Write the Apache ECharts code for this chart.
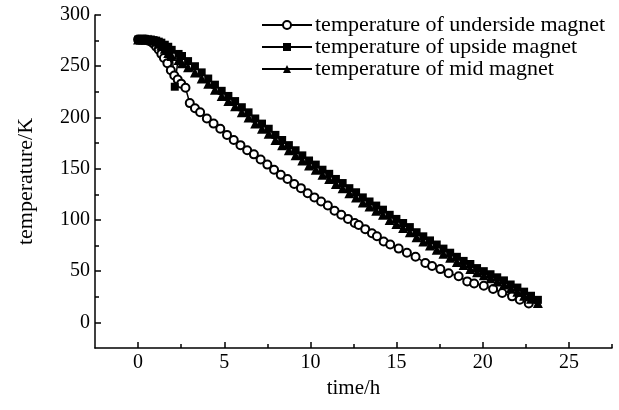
<!DOCTYPE html>
<html>
<head>
<meta charset="utf-8">
<script src="https://cdn.jsdelivr.net/npm/echarts@6/dist/echarts.min.js"></script>
<style>html,body{margin:0;padding:0;background:#fff}#c{width:619px;height:410px}</style>
</head>
<body>
<div id="c"></div>
<script>
// ---- data ----
const seriesNames = ['temperature of underside magnet', 'temperature of upside magnet', 'temperature of mid magnet'];

const timeUnder = [0, 0.15, 0.3, 0.45, 0.6, 0.75, 0.9, 1.05, 1.2, 1.35, 1.5, 1.7, 1.9, 2.1, 2.3, 2.5, 2.75, 3.0, 3.3, 3.6,
  3.99, 4.38, 4.77, 5.16, 5.55, 5.94, 6.33, 6.72, 7.11, 7.5, 7.89, 8.28, 8.67, 9.06, 9.45, 9.84, 10.23, 10.62, 11.01, 11.4,
  11.79, 12.18, 12.57, 12.8, 13.18, 13.57, 13.86, 14.25, 14.63, 15.12, 15.6, 16.1, 16.67, 17.06, 17.54, 18.02, 18.6, 19.1,
  19.5, 20.06, 20.6, 21.13, 21.7, 22.15, 22.67];
const tempUnder = [276, 276, 276, 276, 275, 274, 272, 269, 266, 262, 258, 253, 246, 241, 237, 233, 229, 214, 209, 205,
  199, 194, 189, 183, 178, 173, 168, 164, 159, 154, 149, 144, 140, 135, 131, 126, 122, 118, 114, 109,
  105, 101, 97, 95, 91, 87, 84, 79, 76, 72, 68, 64, 58, 55, 52, 48, 45, 40,
  38, 35.8, 32.6, 28.7, 25.4, 22.2, 18.5];

const timeUp = [0, 0.15, 0.3, 0.45, 0.6, 0.75, 0.9, 1.05, 1.2, 1.35, 1.55, 1.75, 1.95, 2.13, 2.35, 2.55, 2.9, 3.3, 3.69, 4.07,
  4.46, 4.85, 5.24, 5.63, 6.02, 6.41, 6.8, 7.19, 7.58, 7.97, 8.36, 8.75, 9.14, 9.53, 9.92, 10.31, 10.7, 11.09, 11.48, 11.87,
  12.26, 12.65, 13.04, 13.43, 13.82, 14.21, 14.6, 14.99, 15.38, 15.77, 16.16, 16.55, 16.94, 17.33, 17.72, 18.11, 18.5, 18.89,
  19.28, 19.67, 20.06, 20.45, 20.84, 21.23, 21.62, 22.01, 22.4, 22.8, 23.2];
const tempUp = [276, 276, 276, 276, 276, 276, 275.5, 275, 274, 273, 271, 269, 266, 230, 262, 260, 255, 250, 244, 238,
  232, 226, 221, 216, 210, 205, 199, 194, 189, 183, 178, 173, 168, 163, 158, 154, 149, 145, 140, 136,
  131, 127, 122, 118, 114, 110, 105, 101, 97, 93, 88, 84, 80, 76, 72, 68, 64, 60,
  57, 53, 50, 47, 44, 41, 37, 34, 30, 26, 22];

const timeMid = [0, 0.15, 0.3, 0.45, 0.6, 0.75, 0.9, 1.05, 1.2, 1.35, 1.55, 1.75, 1.95, 2.35, 2.55, 2.9, 3.3, 3.69, 4.07,
  4.46, 4.85, 5.24, 5.63, 6.02, 6.41, 6.8, 7.19, 7.58, 7.97, 8.36, 8.75, 9.14, 9.53, 9.92, 10.31, 10.7, 11.09, 11.48, 11.87,
  12.26, 12.65, 13.04, 13.43, 13.82, 14.21, 14.6, 14.99, 15.38, 15.77, 16.16, 16.55, 16.94, 17.33, 17.72, 18.11, 18.5, 18.89,
  19.28, 19.67, 20.06, 20.45, 20.84, 21.23, 21.62, 22.01, 22.4, 22.8, 23.2];
const tempMid = [276, 276, 276, 276, 276, 276, 275, 274, 272, 270, 267, 263, 260, 256, 253, 249, 244, 238, 233,
  227, 221, 216, 211, 205, 200, 194, 189, 184, 178, 173, 168, 163, 158, 153, 149, 144, 140, 135, 131,
  126, 122, 117, 113, 109, 105, 100, 96, 92, 88, 83, 79, 75, 71, 67, 63, 59, 56,
  52, 49, 46, 43, 40, 37, 33, 30, 26, 23, 19];

const xMajorTicks = [0, 5, 10, 15, 20, 25];
const xMinorTicks = [2.5, 7.5, 12.5, 17.5, 22.5, 27.5];
const yMajorTicks = [0, 50, 100, 150, 200, 250, 300];
const yMinorTicks = [25, 75, 125, 175, 225, 275];

// ---- chart ----
const FONT = '"Liberation Serif", "Times New Roman", serif';
const pairs = (xs, ys) => xs.map((x, i) => [x, ys[i]]);
const chart = echarts.init(document.getElementById('c'), null, { renderer: 'canvas' });

const axisLineStyle = { color: '#000', width: 1.5 };
const baseX = { type: 'value', min: -2.5, max: 27.5, splitLine: { show: false }, position: 'bottom' };
const baseY = { type: 'value', min: -25, max: 300, splitLine: { show: false }, position: 'left' };

chart.setOption({
  animation: false,
  backgroundColor: '#fff',
  grid: { left: 95, right: 7, top: 15, bottom: 62, containLabel: false },
  legend: {
    left: 256, top: 9, orient: 'vertical', itemGap: 0, itemWidth: 50, itemHeight: 10,
    data: seriesNames,
    textStyle: { fontFamily: FONT, fontSize: 22, color: '#000', padding: [0, 0, 0, -2] }
  },
  xAxis: [
    Object.assign({}, baseX, {
      name: 'time/h', nameLocation: 'middle', nameGap: 25,
      nameTextStyle: { fontFamily: FONT, fontSize: 21, color: '#000' },
      axisLine: { show: true, onZero: false, lineStyle: axisLineStyle },
      axisTick: { show: true, inside: true, length: 6, customValues: xMajorTicks, lineStyle: axisLineStyle },
      axisLabel: { customValues: xMajorTicks, fontFamily: FONT, fontSize: 20, color: '#000', margin: 5 }
    }),
    Object.assign({}, baseX, {
      axisLine: { show: false, onZero: false },
      axisTick: { show: true, inside: true, length: 4, customValues: xMinorTicks, lineStyle: axisLineStyle },
      axisLabel: { show: false }
    })
  ],
  yAxis: [
    Object.assign({}, baseY, {
      name: 'temperature/K', nameLocation: 'middle', nameGap: 58, nameRotate: 90,
      nameTextStyle: { fontFamily: FONT, fontSize: 22, color: '#000' },
      axisLine: { show: true, onZero: false, lineStyle: axisLineStyle },
      axisTick: { show: true, inside: true, length: 6, customValues: yMajorTicks, lineStyle: axisLineStyle },
      axisLabel: { customValues: yMajorTicks, fontFamily: FONT, fontSize: 20, color: '#000', margin: 5 }
    }),
    Object.assign({}, baseY, {
      axisLine: { show: false, onZero: false },
      axisTick: { show: true, inside: true, length: 4, customValues: yMinorTicks, lineStyle: axisLineStyle },
      axisLabel: { show: false }
    })
  ],
  series: [
    {
      name: seriesNames[0], type: 'line', data: pairs(timeUnder, tempUnder),
      symbol: 'emptyCircle', symbolSize: 8, showAllSymbol: true,
      lineStyle: { color: '#000', width: 1.5 },
      itemStyle: { color: '#000', borderColor: '#000', borderWidth: 1.8 }
    },
    {
      name: seriesNames[1], type: 'line', data: pairs(timeUp, tempUp),
      symbol: 'rect', symbolSize: 8, showAllSymbol: true,
      lineStyle: { color: '#000', width: 1.5 },
      itemStyle: { color: '#000' }
    },
    {
      name: seriesNames[2], type: 'line', data: pairs(timeMid, tempMid),
      symbol: 'triangle', symbolSize: 10, showAllSymbol: true,
      lineStyle: { color: '#000', width: 1.5 },
      itemStyle: { color: '#000' }
    }
  ]
});
</script>
</body>
</html>
